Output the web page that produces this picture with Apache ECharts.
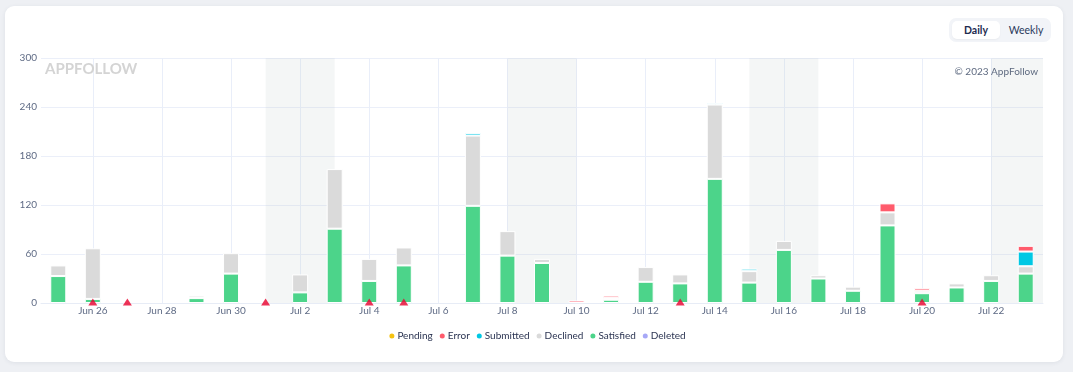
<!DOCTYPE html>
<html>
<head>
<meta charset="utf-8">
<script src="https://cdn.jsdelivr.net/npm/echarts@6/dist/echarts.min.js"></script>
<style>
  html, body { margin:0; padding:0; background:#eef0f4; width:1073px; height:372px; overflow:hidden; font-family: Lato, "Noto Sans", sans-serif; }
  #card { position:absolute; left:5px; top:6px; width:1058px; height:356px; background:#fff; border-radius:9px; box-shadow:0 1px 4px rgba(40,50,80,0.08); }
  #chart { position:absolute; left:0; top:0; width:1073px; height:372px; }
  #toggle { position:absolute; left:949px; top:18px; width:102px; height:24px; background:#f2f4f8; border-radius:7px; z-index:5; }
  #daily { position:absolute; left:3px; top:3px; width:48px; height:18px; background:#fff; border-radius:5px; font-size:10.5px; font-weight:bold; color:#1d2b4f; text-align:center; line-height:18px; box-shadow:0 1px 2px rgba(0,0,0,0.04); }
  #weekly { position:absolute; left:56px; top:3px; width:42px; height:18px; font-size:10.5px; color:#2b3a5c; text-align:center; line-height:18px; }
</style>
</head>
<body>
<div id="card"></div>
<div id="chart"></div>
<div id="toggle"><div id="daily">Daily</div><div id="weekly">Weekly</div></div>
<script>
const categories = ["Jun 25","Jun 26","Jun 27","Jun 28","Jun 29","Jun 30","Jul 1","Jul 2","Jul 3","Jul 4","Jul 5","Jul 6","Jul 7","Jul 8","Jul 9","Jul 10","Jul 11","Jul 12","Jul 13","Jul 14","Jul 15","Jul 16","Jul 17","Jul 18","Jul 19","Jul 20","Jul 21","Jul 22","Jul 23"];
const satisfied = [33,5,0,0,6,36,0,13,91,27,46,0,119,58,49,0,4,26,24,152,25,65,30,15,95,12,19,27,36];
const declined  = [13,62,0,0,3,25,0,22,73,27,22,0,86,30,5,0,2,18,11,91,14,11,4,5,16,3,5,7,9];
const submitted = [0,0,0,0,0,0,0,0,0,0,0,0,3,0,0,0,0,0,0,2,3,0,0,0,0,0,0,0,18];
const errorVals = [0,0,0,0,0,0,0,0,0,0,0,0,0,0,0,3,3,0,0,0,0,0,0,0,11,3,0,0,7];
const pending   = [0,0,0,0,0,0,0,0,0,0,0,0,0,0,0,0,0,0,0,0,0,0,0,0,0,0,0,0,0];
const deleted   = [0,0,0,0,0,0,0,0,0,0,0,0,0,0,0,0,0,0,0,0,0,0,0,0,0,0,0,0,0];
const markerDays = ["Jun 26","Jun 27","Jul 1","Jul 4","Jul 5","Jul 13","Jul 20"];
const weekends = [["Jul 1","Jul 3"],["Jul 8","Jul 10"],["Jul 15","Jul 17"],["Jul 22",null]];
const yTicks = { min: 0, max: 300, interval: 60 };
const legendOrder = ["Pending","Error","Submitted","Declined","Satisfied","Deleted"];

const colors = { Satisfied:"#4cd48a", Declined:"#dadada", Submitted:"#00c8e4", Error:"#ff5b6c", Pending:"#f5c211", Deleted:"#a7a8f7" };
const nz = arr => arr.map(v => v === 0 ? null : v);

function barSeries(name, data) {
  return {
    name, type:"bar", stack:"total", data:nz(data), barWidth:16,
    itemStyle:{ color:colors[name], borderColor:"#fff", borderWidth:1 },
    emphasis:{ disabled:true }, z:3
  };
}

const chart = echarts.init(document.getElementById("chart"), null, { renderer:"canvas" });
chart.setOption({
  animation:false,
  textStyle:{ fontFamily:"Lato, 'Noto Sans', sans-serif" },
  grid:{ left:41, right:30, top:58, bottom:69 },
  legend:{
    data:legendOrder, top:326, left:"center", icon:"circle",
    itemWidth:7, itemHeight:7, itemGap:5,
    textStyle:{ fontSize:10, color:"#2b3452", padding:[0,0,0,-3] }
  },
  xAxis:{
    type:"category", data:categories, boundaryGap:true,
    axisLine:{ show:true, lineStyle:{ color:"#e7ecf6" } },
    axisTick:{ show:false },
    axisLabel:{ interval:(i)=> i % 2 === 1, fontSize:10, color:"#5f6b85", margin:3 },
    splitLine:{ show:true, interval:(i)=> i % 2 === 1, alignWithLabel:true, lineStyle:{ color:"#e9eef9", width:1 } }
  },
  yAxis:{
    type:"value", min:yTicks.min, max:yTicks.max, interval:yTicks.interval,
    axisLine:{ show:false }, axisTick:{ show:false },
    axisLabel:{ fontSize:10, color:"#5f6b85", margin:4 },
    splitLine:{ lineStyle:{ color:"#ebeff9", width:1 } }
  },
  graphic:[
    { type:"text", left:45, top:62, style:{ text:"APPFOLLOW", font:"bold 15px Lato, sans-serif", fill:"#d4d4d4" }, z:1 },
    { type:"text", right:35, top:67, style:{ text:"© 2023 AppFollow", font:"10px Lato, sans-serif", fill:"#5e6a80" }, z:10 }
  ],
  series:[
    barSeries("Satisfied", satisfied),
    barSeries("Declined", declined),
    barSeries("Submitted", submitted),
    barSeries("Error", errorVals),
    barSeries("Pending", pending),
    barSeries("Deleted", deleted),
    {
      name:"markers", type:"scatter", data:markerDays.map(d => [d, 0]),
      symbol:"triangle", symbolSize:[9,7], symbolOffset:[0,-1],
      itemStyle:{ color:"#e8002d" }, z:6, silent:true,
      markArea:{
        silent:true,
        itemStyle:{ color:"rgba(190,200,200,0.17)" },
        data: weekends.map(w => w[1] ? [{ xAxis:w[0] }, { xAxis:w[1] }] : [{ xAxis:w[0] }, {}])
      }
    }
  ]
});
</script>
</body>
</html>
